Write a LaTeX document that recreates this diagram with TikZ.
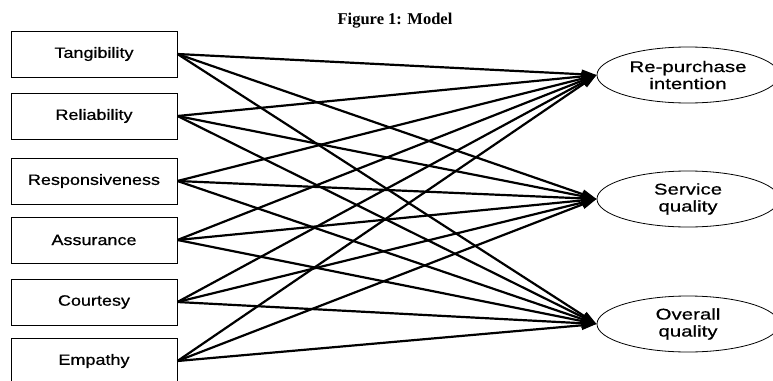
\documentclass[tikz,border=0pt]{standalone}
\usepackage{fontspec}
\setmainfont{Liberation Sans}
\newfontfamily\boxfont[FakeStretch=1.2,FakeBold=0.6]{Liberation Sans}
\newfontfamily\ellfont[FakeStretch=1.32,FakeBold=0.6]{Liberation Sans}
\newfontfamily\titlefont{Liberation Serif}
\usetikzlibrary{arrows.meta,shapes.geometric}
\begin{document}
\begin{tikzpicture}[x=1pt,y=-1pt,
  srcbox/.style={draw, line width=0.9pt, minimum width=166pt, minimum height=46pt, inner sep=0pt,
    fill=white, font=\boxfont\fontsize{15}{18}\selectfont},
  target/.style={draw, ellipse, line width=0.8pt, minimum width=182pt, minimum height=56pt, inner sep=0pt,
    align=center, fill=white, font=\ellfont\fontsize{15.5}{17}\selectfont},
  link/.style={line width=2.2pt, -{Triangle[length=15pt,width=9pt]}}]
\useasboundingbox (0,0) rectangle (773,380);
\node[font=\titlefont\bfseries\fontsize{16.5}{18}\selectfont] (title) at (395,21) {Figure 1: Model};
\node[srcbox] (s1) at (94,54) {Tangibility};
\node[srcbox] (s2) at (94,116) {Reliability};
\node[srcbox] (s3) at (94,181) {Responsiveness};
\node[srcbox] (s4) at (94,240) {Assurance};
\node[srcbox] (s5) at (94,302) {Courtesy};
\node[srcbox] (s6) at (94,361) {Empathy};
\node[target] (t1) at (688,75) {Re-purchase\\intention};
\node[target] (t2) at (688,199) {Service\\quality};
\node[target] (t3) at (688,324) {Overall\\quality};
\foreach \s in {s1,s2,s3,s4,s5,s6}
  \foreach \t in {t1,t2,t3}
    \draw[link] (\s.east) -- (\t.west);
\end{tikzpicture}
\end{document}
